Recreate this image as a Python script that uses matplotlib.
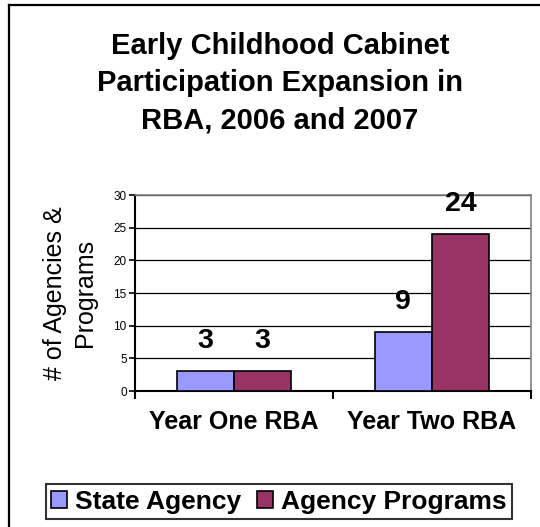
import numpy as np
import matplotlib
matplotlib.use("Agg")
import matplotlib.pyplot as plt
from matplotlib.lines import Line2D

plt.rcParams['font.family'] = ['Liberation Sans', 'DejaVu Sans']

# data
categories = ['Year One RBA', 'Year Two RBA']
state_agency = [3, 9]
agency_programs = [3, 24]
series_names = ['State Agency', 'Agency Programs']
y_ticks = [0, 5, 10, 15, 20, 25, 30]

fig = plt.figure(figsize=(5.4, 5.27), dpi=100)

# outer frame (left + top only visible)
fig.add_artist(Line2D([9/540, 9/540], [0, 1 - 5/527], color='black', lw=1.6,
                      transform=fig.transFigure))
fig.add_artist(Line2D([9/540, 1], [1 - 5/527, 1 - 5/527], color='black', lw=1.6,
                      transform=fig.transFigure))

ax = fig.add_axes([135/540, 1 - 391/527, 396/540, 196/527])

x = np.arange(len(categories))
w = 0.29
b1 = ax.bar(x - w/2, state_agency, w, color='#9999FF', edgecolor='black', lw=1.2,
            label=series_names[0], zorder=3)
b2 = ax.bar(x + w/2, agency_programs, w, color='#993366', edgecolor='black', lw=1.2,
            label=series_names[1], zorder=3)

for bars, vals in [(b1, state_agency), (b2, agency_programs)]:
    for r, v in zip(bars, vals):
        ax.annotate(str(v), (r.get_x() + r.get_width()/2, v), xytext=(0, 22),
                    textcoords='offset points', ha='center', va='center',
                    fontsize=20.5, fontweight='bold')

ax.set_xlim(-0.5, 1.5)
ax.set_ylim(0, 30)
ax.set_yticks(y_ticks)
ax.tick_params(axis='y', labelsize=8.5, length=4, width=1.2, direction='out', pad=2)
ax.grid(axis='y', color='black', lw=0.9, zorder=0)

ax.set_xticks([-0.5, 0.5, 1.5])
ax.set_xticklabels([])
ax.set_xticks(x, minor=True)
ax.set_xticklabels(categories, minor=True, fontsize=18, fontweight='bold')
ax.tick_params(axis='x', which='major', length=6, width=1.5, direction='out')
ax.tick_params(axis='x', which='minor', length=0, pad=14)

ax.spines['top'].set_color('#808080')
ax.spines['right'].set_color('#808080')
ax.spines['top'].set_linewidth(1.2)
ax.spines['right'].set_linewidth(1.2)
ax.spines['left'].set_linewidth(1.5)
ax.spines['bottom'].set_linewidth(1.5)

ax.set_ylabel('# of Agencies &\nPrograms', fontsize=18, linespacing=1.3)
ax.yaxis.set_label_coords((97 - 135) / 396, 0.5)

fig.text(280/540, 1 - 83/527, 'Early Childhood Cabinet\nParticipation Expansion in\nRBA, 2006 and 2007',
         ha='center', va='center', fontsize=21, fontweight='bold', linespacing=1.42)

leg = fig.legend(handles=[b1, b2], loc='center', bbox_to_anchor=(279/540, 1 - 501.5/527),
                 ncol=2, frameon=True, fancybox=False, edgecolor='black',
                 prop={'size': 19, 'weight': 'bold'}, handlelength=0.6, handleheight=0.6,
                 handletextpad=0.3, columnspacing=0.6, borderpad=0.22)
leg.get_frame().set_linewidth(1.5)

fig.savefig('out.png', dpi=100)
